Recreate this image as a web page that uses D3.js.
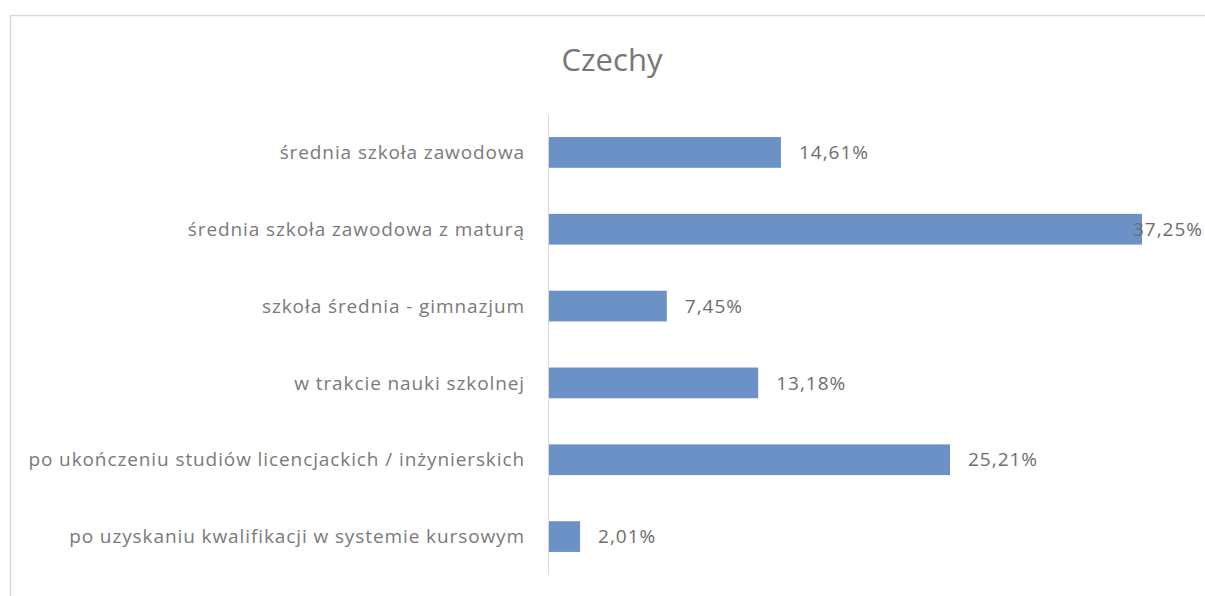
<!DOCTYPE html>
<html>
<head>
<meta charset="utf-8">
<script src="https://cdn.jsdelivr.net/npm/d3@7"></script>
<style>
  html, body { margin: 0; padding: 0; background: #fff; }
  svg { display: block; }
</style>
</head>
<body>
<div id="chart"></div>
<script>
// Data
const categories = [
    'średnia szkoła zawodowa',
    'średnia szkoła zawodowa z maturą',
    'szkoła średnia - gimnazjum',
    'w trakcie nauki szkolnej',
    'po ukończeniu studiów licencjackich / inżynierskich',
    'po uzyskaniu kwalifikacji w systemie kursowym'
];
const values = [14.61, 37.25, 7.45, 13.18, 25.21, 2.01];
const title = 'Czechy';

const W = 1205, H = 596;
const fontFamily = '"Open Sans", "Noto Sans", sans-serif';

const svg = d3.select('#chart')
    .append('svg')
    .attr('width', W)
    .attr('height', H);

// Chart frame (cut off on the right and bottom)
svg.append('rect')
    .attr('x', 10.5)
    .attr('y', 15.5)
    .attr('width', W + 20)
    .attr('height', H + 20)
    .attr('fill', '#fff')
    .attr('stroke', '#d9d9d9')
    .attr('stroke-width', 1.5);

svg.append('text')
    .attr('x', 612)
    .attr('y', 71)
    .attr('text-anchor', 'middle')
    .style('font-family', fontFamily)
    .style('font-size', '31px')
    .style('fill', '#777')
    .text(title);

const x0 = 548;
const x = d3.scaleLinear().domain([0, 37.25]).range([x0, 1142]);
const y = d3.scaleBand().domain(categories).range([114, 575]).paddingInner(0.6).paddingOuter(0.3);

// Bars
svg.selectAll('.bar')
    .data(values)
    .enter()
    .append('rect')
    .attr('class', 'bar')
    .attr('x', x(0))
    .attr('y', (d, i) => y(categories[i]))
    .attr('width', d => x(d) - x(0))
    .attr('height', y.bandwidth())
    .attr('fill', '#6b91c7');

// Category axis line
svg.append('line')
    .attr('x1', x0 + 0.5).attr('x2', x0 + 0.5)
    .attr('y1', 114).attr('y2', 575)
    .attr('stroke', '#d9d9d9')
    .attr('stroke-width', 1);

// Category labels
svg.selectAll('.catLabel')
    .data(categories)
    .enter()
    .append('text')
    .attr('class', 'catLabel')
    .attr('x', 525)
    .attr('y', d => y(d) + y.bandwidth() / 2)
    .attr('dy', '0.35em')
    .attr('text-anchor', 'end')
    .style('font-family', fontFamily)
    .style('font-size', '19px')
    .style('letter-spacing', '0.9px')
    .style('fill', '#7a7a7a')
    .text(d => d);

// Value labels (the longest one is pulled back so it stays inside the page)
const fmt = v => v.toFixed(2).replace('.', ',') + '%';
svg.selectAll('.valLabel')
    .data(values)
    .enter()
    .append('text')
    .attr('class', 'valLabel')
    .attr('y', (d, i) => y(categories[i]) + y.bandwidth() / 2)
    .attr('dy', '0.35em')
    .style('font-family', fontFamily)
    .style('font-size', '19px')
    .style('letter-spacing', '1px')
    .style('fill', '#6d6d6d')
    .text(d => fmt(d))
    .attr('x', function(d) {
        const w = this.getComputedTextLength();
        return Math.min(x(d) + 18, W - w - 2);
    });
</script>
</body>
</html>
